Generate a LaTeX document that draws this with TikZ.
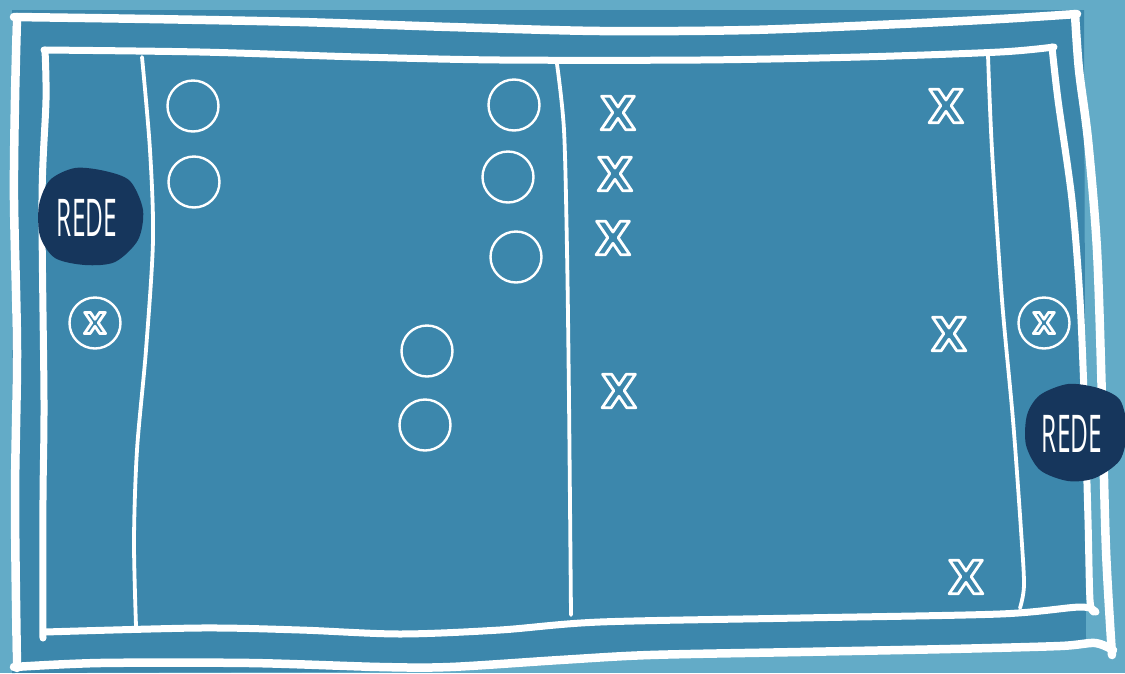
\documentclass[tikz,border=0pt]{standalone}
\usepackage{fontspec}
\newfontfamily\xfont{DejaVu Sans}
\newfontfamily\redefont{Open Sans}
\definecolor{bgLight}{HTML}{63ABC7}
\definecolor{court}{HTML}{3C87AC}
\definecolor{navy}{HTML}{16365C}
\tikzset{
  border/.style={draw=white,line width=8.5pt,line cap=round,line join=round},
  innerborder/.style={draw=white,line width=7pt,line cap=round,line join=round},
  courtline/.style={draw=white,line width=3.8pt,line cap=round},
  ring/.style={draw=white,line width=2.4pt,circle,minimum size=51pt,inner sep=0pt},
  xmark/.style={inner sep=0pt,font=\xfont\bfseries\fontsize{46}{46}\selectfont},
  xsmall/.style={inner sep=0pt,font=\xfont\bfseries\fontsize{29}{29}\selectfont},
  blob/.style={fill=navy},
  redelabel/.style={text=white,inner sep=0pt,font=\redefont\fontsize{52}{52}\selectfont}
}
\newcommand{\xglyph}{\textcolor{court}{\special{pdf:literal direct q 2 Tr 2.8 w 1 1 1 RG 1 j}X\special{pdf:literal direct Q}}}
\begin{document}
\begin{tikzpicture}[x=1pt,y=-1pt]
\useasboundingbox (0,0) rectangle (1125,673);
\fill[bgLight] (0,0) rectangle (1125,673);
% court fill
\fill[court] (12,10) -- (1084,10) -- (1086,640)
  -- plot[smooth] coordinates {(1086,640)(1000,650)(800,654)(650,658)(560,662)(450,670)(300,672)}
  -- (12,673) -- cycle;
% outer border
\draw[border] plot[smooth] coordinates {(14,17)(150,19)(300,22)(450,27)(600,31)(750,30)(900,24)(1000,19)(1077,14)};
\draw[border] plot[smooth] coordinates {(1075,14)(1079,70)(1088,140)(1097,250)(1102,400)(1106,550)(1112,655)};
\draw[border] plot[smooth] coordinates {(1113,650)(1095,643)(1060,646)(950,649)(800,652)(650,655)(560,660)(450,667)(380,667)(250,663)(100,663)(14,667)};
\draw[border] plot[smooth] coordinates {(17,668)(15,500)(17,350)(14,200)(15,100)(17,17)};
% inner border
\draw[innerborder] plot[smooth] coordinates {(44,50)(200,52)(360,57)(500,60)(700,60)(860,57)(1000,52)(1054,47)};
\draw[innerborder] plot[smooth] coordinates {(1052,47)(1058,100)(1072,200)(1080,300)(1085,420)(1088,520)(1090,600)(1094,612)};
\draw[innerborder] plot[smooth] coordinates {(1096,612)(1080,607)(1000,614)(800,618)(600,622)(500,630)(400,634)(300,630)(200,628)(45,632)};
\draw[innerborder] plot[smooth] coordinates {(43,638)(43,500)(44,400)(42,200)(46,100)(45,50)};
% court lines
\draw[courtline] plot[smooth] coordinates {(142,57)(150,150)(153,240)(146,350)(137,450)(134,540)(136,626)};
\draw[courtline] plot[smooth] coordinates {(557,64)(564,130)(567,250)(569,400)(571,615)};
\draw[courtline] plot[smooth] coordinates {(988,55)(992,150)(1002,300)(1013,420)(1021,530)(1024,585)(1020,608)};
% nets
\fill[blob] plot[smooth cycle] coordinates {(50,180)(75,168)(105,171)(130,181)(143,210)(138,240)(115,262)(85,265)(55,258)(40,236)(39,205)};
\node[redelabel] (netL) at (87,218) {\scalebox{0.47}[1]{REDE}};
\fill[blob] plot[smooth cycle] coordinates {(1040,395)(1068,384)(1098,388)(1120,400)(1127,430)(1120,460)(1095,478)(1068,481)(1040,470)(1026,445)(1027,415)};
\node[redelabel] (netR) at (1072,434) {\scalebox{0.47}[1]{REDE}};
% circles (team O)
\node[ring] (o1) at (193,106) {};
\node[ring] (o2) at (194,182) {};
\node[ring] (o3) at (514,105) {};
\node[ring] (o4) at (508,177) {};
\node[ring] (o5) at (516,257) {};
\node[ring] (o6) at (427,351) {};
\node[ring] (o7) at (425,425) {};
% circled X
\node[ring] (gL) at (95,323) {};
\node[xsmall] (gLx) at (gL) {\xglyph};
\node[ring] (gR) at (1044,323) {};
\node[xsmall] (gRx) at (gR) {\xglyph};
% X players
\node[xmark] (x1) at (618,113) {\xglyph};
\node[xmark] (x2) at (615,174) {\xglyph};
\node[xmark] (x3) at (613,238) {\xglyph};
\node[xmark] (x4) at (619,391) {\xglyph};
\node[xmark] (x5) at (946,106) {\xglyph};
\node[xmark] (x6) at (949,334) {\xglyph};
\node[xmark] (x7) at (966,577) {\xglyph};
\end{tikzpicture}
\end{document}
